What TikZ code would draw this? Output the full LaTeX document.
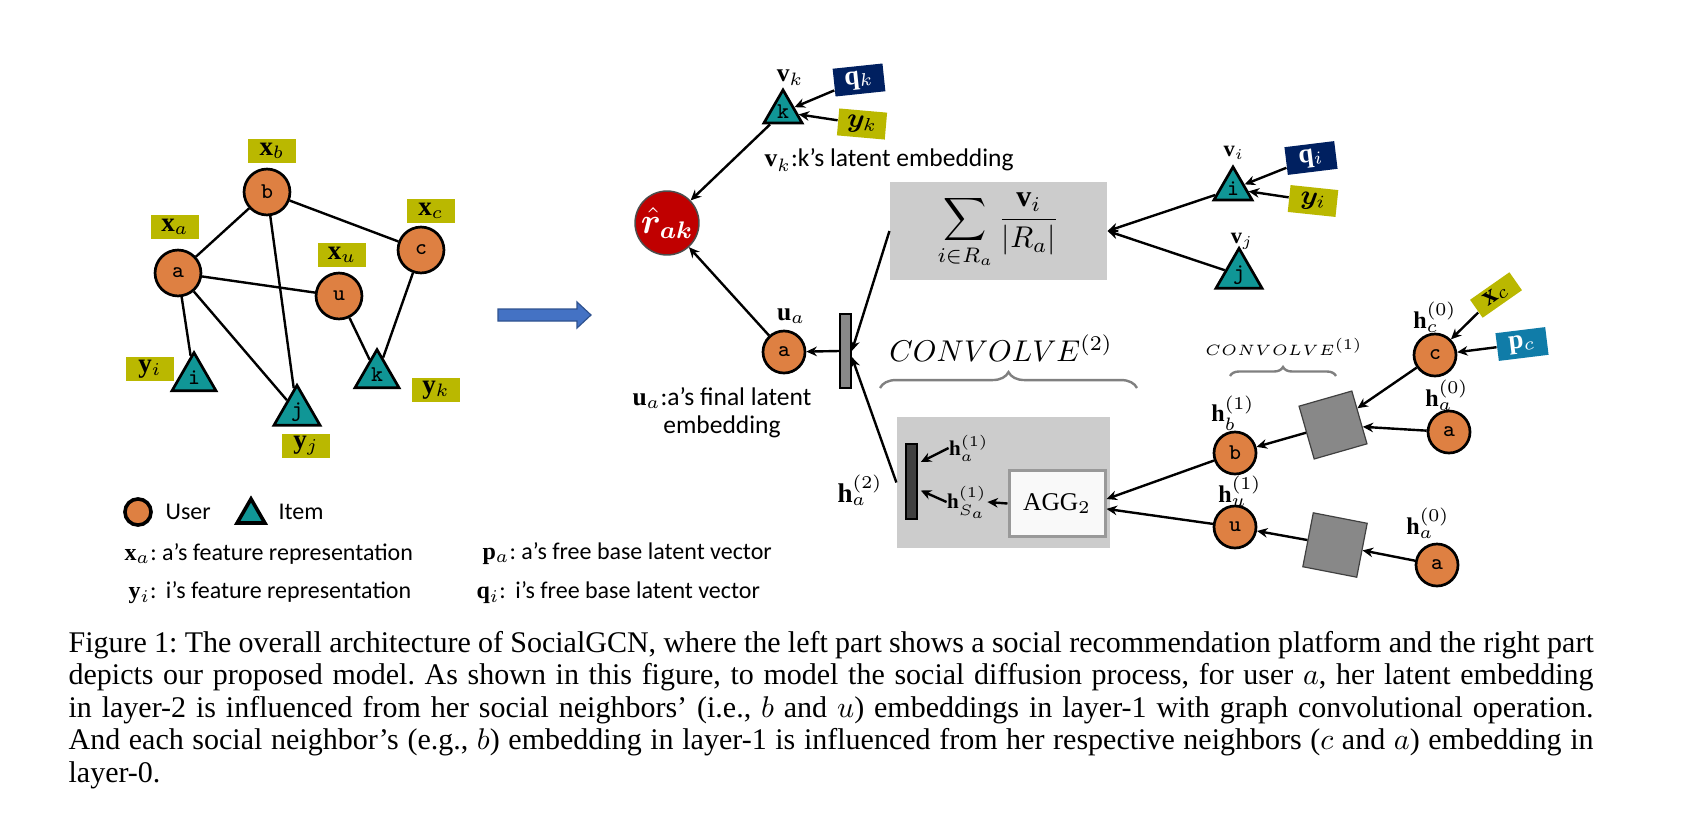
\documentclass[tikz,border=0pt]{standalone}
\usepackage{fontspec}
\usepackage{amsmath,bm}
\setmainfont{Liberation Serif}
\newfontfamily\calibri{Carlito}
\usetikzlibrary{shapes.geometric,arrows.meta,decorations.pathreplacing}

\definecolor{userorange}{RGB}{222,128,66}
\definecolor{itemteal}{RGB}{16,150,150}
\definecolor{featolive}{RGB}{186,184,0}
\definecolor{freenavy}{RGB}{0,32,96}
\definecolor{freeblue}{RGB}{16,124,168}
\definecolor{predred}{RGB}{192,0,0}
\definecolor{boxgray}{RGB}{204,204,204}
\definecolor{sqgray}{RGB}{136,136,136}
\definecolor{bargray}{RGB}{64,64,64}
\definecolor{flowblue}{RGB}{68,114,196}
\definecolor{flowedge}{RGB}{47,82,143}
\frenchspacing

\begin{document}
\begin{tikzpicture}[
    x=0.3333pt, y=-0.3333pt,
    user/.style={circle, draw, line width=0.9pt, fill=userorange, minimum size=15.3pt, inner sep=0pt, font=\ttfamily\fontsize{7.5}{8}\selectfont},
    item/.style={regular polygon, regular polygon sides=3, draw, line width=0.9pt, fill=itemteal, minimum size=16.9pt, inner sep=0pt, font=\ttfamily\fontsize{7.5}{8}\selectfont},
    feat/.style={rectangle, fill=featolive, minimum width=16pt, minimum height=8.3pt, inner sep=0pt, font=\fontsize{9}{10}\selectfont},
    free/.style={rectangle, fill=freenavy, text=white, minimum width=16.7pt, minimum height=9.3pt, inner sep=0pt, font=\fontsize{9}{10}\selectfont},
    vec/.style={inner sep=0pt, font=\fontsize{8}{9}\selectfont},
    note/.style={inner sep=0pt, font=\calibri\fontsize{8}{9.5}\selectfont},
    convsq/.style={rectangle, draw=black!75, line width=0.4pt, fill=sqgray, minimum size=18.3pt, inner sep=0pt},
    graybox/.style={rectangle, fill=boxgray, inner sep=0pt},
    vbar/.style={rectangle, draw=black, line width=0.5pt, minimum width=3.7pt, minimum height=24.7pt, inner sep=0pt},
    link/.style={line width=0.8pt},
    arrow/.style={-{Stealth[length=3.5pt, width=3.2pt]}, line width=0.8pt},
    brace/.style={decorate, decoration={brace, amplitude=#1}, draw=gray, line width=0.8pt},
    capline/.style={anchor=base west, inner sep=0pt, font=\fontsize{10}{11}\selectfont},
]
\path[use as bounding box, fill=white] (0,0) rectangle (1687,813);

% ====== Social platform (left) ======
\node[user] (a) at (178,273) {a};
\node[user] (b) at (267,192) {b};
\node[user] (c) at (421,250) {c};
\node[user] (u) at (339,296) {u};
\node[item] (i) at (194,378) {i};
\node[item] (j) at (297,412) {j};
\node[item] (k) at (377,375) {k};

\node[feat] (xb) at (272,151) {$\mathbf{x}_b$};
\node[feat] (xa) at (175,227) {$\mathbf{x}_a$};
\node[feat] (xc) at (431,211) {$\mathbf{x}_c$};
\node[feat] (xu) at (342,255) {$\mathbf{x}_u$};
\node[feat] (yi) at (150,369) {$\mathbf{y}_i$};
\node[feat] (yj) at (306,446) {$\mathbf{y}_j$};
\node[feat] (yk) at (436,390) {$\mathbf{y}_k$};

\draw[link] (a) -- (b);
\draw[link] (b) -- (c);
\draw[link] (a) -- (u);
\draw[link] (b) -- (j);
\draw[link] (a) -- (i);
\draw[link] (a) -- (j);
\draw[link] (u) -- (k);
\draw[link] (c) -- (k);

% ====== Legend ======
\node[user, minimum size=8.7pt, line width=1.2pt] (legu) at (138,512) {};
\node[note, anchor=west] (legutext) at (165,512) {User};
\node[item, minimum size=10.7pt, line width=1.2pt] (legi) at (251,515) {};
\node[note, anchor=west] (legitext) at (278,512) {Item};
\node[note, anchor=west] (legx) at (124,554) {$\mathbf{x}_a$: a’s feature representation};
\node[note, anchor=west] (legy) at (128,593) {$\mathbf{y}_i$:\, i’s feature representation};
\node[note, anchor=west] (legp) at (482,554) {$\mathbf{p}_a$: a’s free base latent vector};
\node[note, anchor=west] (legq) at (476,593) {$\mathbf{q}_i$:\, i’s free base latent vector};

% ====== Block arrow ======
\filldraw[fill=flowblue, draw=flowedge, line width=0.4pt] (498,309) -- (577,309) -- (577,302) -- (591,315) -- (577,328) -- (577,321) -- (498,321) -- cycle;

% ====== Prediction ======
\node[circle, draw=black!70, line width=0.5pt, fill=predred, text=white, minimum size=21.3pt, inner sep=0pt, font=\fontsize{11.5}{12}\selectfont] (rak) at (667,223) {$\bm{\hat{r}}_{\bm{ak}}$};

\node[item, minimum size=14.7pt] (kk) at (783,112) {k};
\node[vec, font=\fontsize{8.5}{9}\selectfont] (vk) at (790,78) {$\mathbf{v}_k$};
\node[free, rotate=6] (qk) at (859,80) {$\mathbf{q}_k$};
\node[feat, rotate=-5, minimum height=9pt] (ykr) at (862,124) {$\bm{y}_k$};
\node[note, anchor=west, font=\calibri\fontsize{8.5}{10}\selectfont] (vknote) at (764,160) {$\mathbf{v}_k$:k’s latent embedding};

\node[user, minimum size=14pt] (ua) at (784,352) {a};
\node[vec, font=\fontsize{8.5}{9}\selectfont] (ualbl) at (791,316) {$\mathbf{u}_a$};
\node[vbar, fill=sqgray] (ubar) at (845.5,351) {};
\node[note, align=center, font=\calibri\fontsize{8.5}{9.4}\selectfont] (uanote) at (722,413) {$\mathbf{u}_a$:a’s final latent\\embedding};

% ====== Item aggregation ======
\node[graybox, minimum width=72.3pt, minimum height=32.7pt] (sumbox) at (998.5,231) {$\displaystyle\sum_{i\in R_a}\frac{\mathbf{v}_i}{|R_a|}$};
\node[item, minimum size=14.7pt] (ii) at (1233,189) {i};
\node[vec, font=\fontsize{7.5}{8}\selectfont] (vi) at (1234,153) {$\mathbf{v}_i$};
\node[free, rotate=7] (qi) at (1311,158) {$\mathbf{q}_i$};
\node[feat, rotate=-6, minimum height=9pt] (yir) at (1313,201) {$\bm{y}_i$};
\node[item, minimum size=14.7pt] (jj) at (1239,275) {j};
\node[vec, font=\fontsize{7.5}{8}\selectfont] (vj) at (1242,241) {$\mathbf{v}_j$};

% ====== Convolve layer 2 ======
\node[font=\fontsize{10}{11}\selectfont] (conv2) at (1001,348) {$CONVOLVE^{(2)}$};
\draw[brace=5.3pt] (880,388) -- (1137,388);
\node[graybox, minimum width=71pt, minimum height=43.7pt] (convbox) at (1003.5,482.5) {};
\node[vbar, fill=bargray, minimum height=25pt] (hbar) at (911.5,481.5) {};
\node[vec, font=\fontsize{7}{8}\selectfont] (ha1) at (969,448) {$\mathbf{h}_a^{(1)}$};
\node[vec, font=\fontsize{7}{8}\selectfont] (hs1) at (967,502) {$\mathbf{h}_{S_a}^{(1)}$};
\node[rectangle, draw=gray!80, line width=1pt, fill=gray!5, minimum width=32pt, minimum height=22.3pt, inner sep=0pt, font=\fontsize{8.5}{9}\selectfont] (aggbox) at (1057,503.5) {$\mathrm{AGG}_2$};
\node[vec, font=\fontsize{9}{10}\selectfont] (ha2) at (860,490) {$\mathbf{h}_a^{(2)}$};

% ====== Convolve layer 1 ======
\node[font=\fontsize{5}{6}\selectfont] (conv1) at (1284,347) {$CONVOLVE^{(1)}$};
\draw[brace=3pt] (1230,376) -- (1336,376);
\node[user, minimum size=14pt] (b1) at (1235,453) {b};
\node[vec] (hb1) at (1233,413) {$\mathbf{h}_b^{(1)}$};
\node[user, minimum size=14pt] (u1) at (1235,527) {u};
\node[vec] (hu1) at (1240,491) {$\mathbf{h}_u^{(1)}$};
\node[convsq, rotate=16] (sq1) at (1333,425) {};
\node[convsq, rotate=-11] (sq2) at (1335,545) {};
\node[user, minimum size=14pt] (c0) at (1435,355) {c};
\node[vec] (hc0) at (1435,317) {$\mathbf{h}_c^{(0)}$};
\node[feat, rotate=35, minimum height=7.3pt] (xc0) at (1496,295) {$\mathbf{x}_c$};
\node[free, fill=freeblue, rotate=7] (pc0) at (1522,344) {$\mathbf{p}_c$};
\node[user, minimum size=14pt] (a0) at (1449,432) {a};
\node[vec] (ha0) at (1447,395) {$\mathbf{h}_a^{(0)}$};
\node[user, minimum size=14pt] (a0b) at (1437,565) {a};
\node[vec] (ha0b) at (1428,523) {$\mathbf{h}_a^{(0)}$};

% ====== Arrows ======
\draw[arrow] (qk) -- (kk);
\draw[arrow] (ykr) -- (kk);
\draw[arrow] (kk) -- (rak);
\draw[arrow] (ua) -- (rak);
\draw[arrow] (ubar.west) -- (ua);
\draw[arrow] (sumbox.west) -- (ubar.east);
\draw[arrow] (convbox.west) -- ([yshift=-2pt]ubar.east);
\draw[arrow] (qi) -- (ii);
\draw[arrow] (yir) -- (ii);
\draw[arrow] (ii) -- (sumbox.east);
\draw[arrow] (jj) -- (sumbox.east);
\draw[arrow] (ha1.west) -- ([yshift=6.5pt, xshift=1pt]hbar.east);
\draw[arrow] (hs1.west) -- ([yshift=-3pt, xshift=1pt]hbar.east);
\draw[arrow] (aggbox.west) -- (hs1.east);
\draw[arrow] (b1) -- ([yshift=1.5pt]aggbox.east);
\draw[arrow] (u1) -- ([yshift=-1.8pt]aggbox.east);
\draw[arrow] (xc0) -- (c0);
\draw[arrow] (pc0) -- (c0);
\draw[arrow] (c0) -- (sq1);
\draw[arrow] (a0) -- (sq1);
\draw[arrow] (sq1) -- (b1);
\draw[arrow] (a0b) -- (sq2);
\draw[arrow] (sq2) -- (u1);

% ====== Caption ======
\node[capline] (cap1) at (68,652) {\makebox[508.3pt][s]{Figure 1: The overall architecture of SocialGCN, where the left part shows a social recommendation platform and the right part}};
\node[capline] (cap2) at (68,684.5) {\makebox[508.3pt][s]{depicts our proposed model. As shown in this figure, to model the social diffusion process, for user $a$, her latent embedding}};
\node[capline] (cap3) at (68,717) {\makebox[508.3pt][s]{in layer-2 is influenced from her social neighbors' (i.e., $b$ and $u$) embeddings in layer-1 with graph convolutional operation.}};
\node[capline] (cap4) at (68,749.5) {\makebox[508.3pt][s]{And each social neighbor's (e.g., $b$) embedding in layer-1 is influenced from her respective neighbors ($c$ and $a$) embedding in}};
\node[capline] (cap5) at (68,782) {layer-0.};

\end{tikzpicture}
\end{document}
